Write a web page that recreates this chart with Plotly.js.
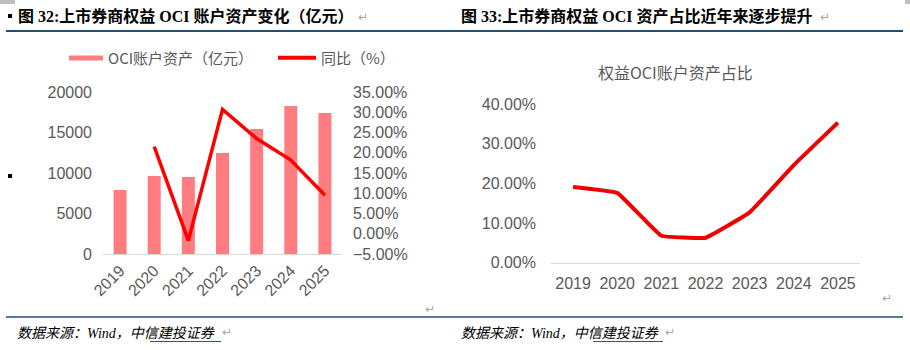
<!DOCTYPE html>
<html>
<head>
<meta charset="utf-8">
<script src="https://cdn.plot.ly/plotly-3.0.1.min.js"></script>
<style>
  html, body { margin: 0; padding: 0; background: #fff; }
  #chart { width: 910px; height: 350px; }
</style>
</head>
<body>
<div id="chart"></div>
<script>
// ---- data ----
const years = ['2019', '2020', '2021', '2022', '2023', '2024', '2025'];
const ociAssets = [7900, 9630, 9500, 12470, 15430, 18270, 17400];   // 亿元
const ociYoY = [null, 0.215, -0.017, 0.307, 0.235, 0.182, 0.095];   // 同比
const ociShare = [0.191, 0.176, 0.068, 0.063, 0.127, 0.246, 0.353]; // 权益OCI账户资产占比

const leftTitle = '图 32:上市券商权益 OCI 账户资产变化（亿元）';
const rightTitle = '图 33:上市券商权益 OCI 资产占比近年来逐步提升';
const barName = 'OCI账户资产（亿元）';
const lineName = '同比（%）';
const rightChartTitle = '权益OCI账户资产占比';
const sourceText = '数据来源：Wind，中信建投证券';

// ---- helpers: pixel -> paper ----
const W = 910, H = 350;
const px = x => x / W;
const py = y => 1 - y / H;

const tickFont = { family: 'Liberation Sans, Arial, sans-serif', size: 16, color: '#595959' };
const cjkFont = 'Noto Sans CJK SC, sans-serif';
const headFont = { family: 'Liberation Serif, Noto Sans CJK SC, serif', size: 16, color: '#000' };
const srcFont = { family: 'Liberation Serif, Noto Sans CJK SC, serif', size: 14, color: '#000' };
const markFont = { family: 'DejaVu Sans, sans-serif', size: 12, color: '#a6a6a6' };

const traces = [
  {
    type: 'bar', x: years, y: ociAssets, name: barName,
    xaxis: 'x', yaxis: 'y',
    marker: { color: '#ff7c80' }, width: 0.38,
    hoverinfo: 'x+y', showlegend: false
  },
  {
    type: 'scatter', mode: 'lines', x: years, y: ociYoY, name: lineName,
    xaxis: 'x', yaxis: 'y2',
    line: { color: '#ff0000', width: 3.5 },
    connectgaps: false, showlegend: false
  },
  {
    type: 'scatter', mode: 'lines', x: years, y: ociShare, name: rightChartTitle,
    xaxis: 'x3', yaxis: 'y3',
    line: { color: '#ee0000', width: 4, shape: 'spline', smoothing: 0.25 },
    showlegend: false
  }
];

const ann = [];
function addText(text, x, y, font, xanchor, yanchor) {
  ann.push({ text, x: px(x), y: py(y), xref: 'paper', yref: 'paper',
    xanchor: xanchor || 'left', yanchor: yanchor || 'middle', showarrow: false, font });
}
// headers
addText('<b>' + leftTitle + '</b>', 16, 16, headFont);
addText('<b>' + rightTitle + '</b>', 459, 16, headFont);
addText('↵', 356, 17, markFont);
addText('↵', 818, 17, markFont);
// legend labels
addText(barName, 106, 58, { family: cjkFont, size: 15, color: '#595959' });
addText(lineName, 319, 58, { family: cjkFont, size: 15, color: '#595959' });
// right chart title
addText(rightChartTitle, 675, 72, { family: cjkFont, size: 16, color: '#595959' }, 'center');
// paragraph marks
addText('↵', 423, 309, markFont);
addText('↵', 880, 298, markFont);
// sources
addText('<i>' + sourceText + '</i>', 15, 333, srcFont);
addText('<i>' + sourceText + '</i>', 459, 333, srcFont);
addText('↵', 220, 332, markFont);
addText('↵', 663, 332, markFont);

const shapes = [
  // header rule
  { type: 'line', xref: 'paper', yref: 'paper', x0: px(6), x1: px(903), y0: py(31), y1: py(31),
    line: { color: '#1f4e79', width: 2.2 } },
  // footer rule
  { type: 'line', xref: 'paper', yref: 'paper', x0: px(6), x1: px(903), y0: py(317), y1: py(317),
    line: { color: '#1f4e79', width: 1.4 } },
  // bullets
  { type: 'rect', xref: 'paper', yref: 'paper', x0: px(8), x1: px(12), y0: py(14), y1: py(18),
    fillcolor: '#000', line: { width: 0 } },
  { type: 'rect', xref: 'paper', yref: 'paper', x0: px(8), x1: px(12), y0: py(174), y1: py(178),
    fillcolor: '#000', line: { width: 0 } },
  // legend swatches
  { type: 'rect', xref: 'paper', yref: 'paper', x0: px(69), x1: px(103), y0: py(55.5), y1: py(60.5),
    fillcolor: '#ff7c80', line: { width: 0 } },
  { type: 'line', xref: 'paper', yref: 'paper', x0: px(278), x1: px(316), y0: py(57.7), y1: py(57.7),
    line: { color: '#ff0000', width: 4 } },
  // source underlines
  { type: 'line', xref: 'paper', yref: 'paper', x0: px(150), x1: px(221), y0: py(341.5), y1: py(341.5),
    line: { color: '#2f5597', width: 1.2 } },
  { type: 'line', xref: 'paper', yref: 'paper', x0: px(593), x1: px(663), y0: py(341.5), y1: py(341.5),
    line: { color: '#2f5597', width: 1.2 } },
  // page corner marks
  { type: 'rect', xref: 'paper', yref: 'paper', x0: px(0), x1: px(15), y0: py(0), y1: py(4),
    fillcolor: '#bfbfbf', line: { width: 0 } },
  { type: 'rect', xref: 'paper', yref: 'paper', x0: px(905), x1: px(910), y0: py(0), y1: py(4),
    fillcolor: '#bfbfbf', line: { width: 0 } }
];

const layout = {
  width: W, height: H,
  margin: { l: 0, r: 0, t: 0, b: 0 },
  paper_bgcolor: '#fff', plot_bgcolor: 'rgba(0,0,0,0)',
  showlegend: false,
  xaxis: {
    domain: [px(103), px(342)], anchor: 'y', type: 'category', range: [-0.5, 6.5],
    showgrid: false, zeroline: false, showline: true, linecolor: '#d9d9d9', linewidth: 1,
    ticks: '', tickangle: -45, tickfont: tickFont, fixedrange: true
  },
  yaxis: {
    domain: [py(254), py(92)], anchor: 'x', range: [0, 20000], dtick: 5000, tick0: 0,
    tickformat: 'd', showgrid: false, zeroline: false, showline: false, ticks: '',
    tickfont: tickFont, ticklabelstandoff: 10, fixedrange: true
  },
  yaxis2: {
    overlaying: 'y', side: 'right', anchor: 'x', range: [-0.05, 0.35], dtick: 0.05, tick0: 0,
    tickformat: '.2%', showgrid: false, zeroline: false, showline: false, ticks: '',
    tickfont: tickFont, ticklabelstandoff: 10, fixedrange: true
  },
  xaxis3: {
    domain: [px(551), px(860)], anchor: 'y3', type: 'category', range: [-0.5, 6.5],
    showgrid: false, zeroline: false, showline: true, linecolor: '#d9d9d9', linewidth: 1,
    ticks: '', tickfont: tickFont, ticklabelstandoff: 6, fixedrange: true
  },
  yaxis3: {
    domain: [py(262.7), py(104)], anchor: 'x3', range: [0, 0.4], dtick: 0.1, tick0: 0,
    tickformat: '.2%', showgrid: false, zeroline: false, showline: false, ticks: '',
    tickfont: tickFont, ticklabelstandoff: 14, fixedrange: true
  },
  annotations: ann,
  shapes: shapes
};

Plotly.newPlot('chart', traces, layout, { displayModeBar: false, staticPlot: true });
</script>
</body>
</html>
